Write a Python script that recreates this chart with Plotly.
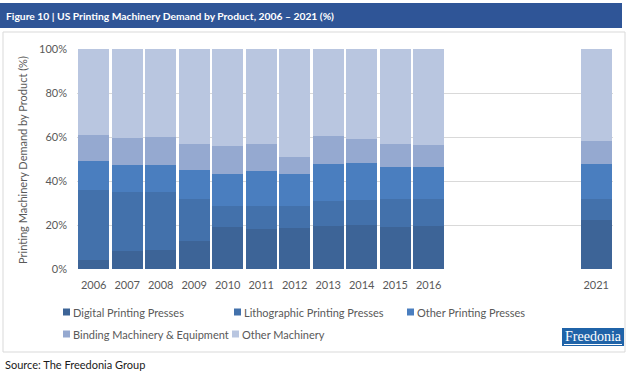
import plotly.graph_objects as go

years = [2006, 2007, 2008, 2009, 2010, 2011, 2012, 2013, 2014, 2015, 2016, 2021]
series_names = ["Digital Printing Presses", "Lithographic Printing Presses", "Other Printing Presses",
                "Binding Machinery & Equipment", "Other Machinery"]
digital = [4.2, 8.0, 8.8, 12.9, 19.2, 18.2, 18.8, 19.7, 20.2, 18.9, 19.7, 22.1]
litho = [31.6, 27.2, 26.2, 19.1, 9.3, 10.3, 9.7, 11.4, 11.3, 13.1, 12.0, 9.9]
other_printing = [13.1, 12.1, 12.4, 12.8, 14.7, 16.0, 14.7, 16.6, 16.7, 14.2, 14.5, 15.7]
binding = [12.0, 12.2, 12.6, 12.2, 12.9, 12.5, 7.9, 12.6, 10.7, 10.8, 10.3, 10.3]
other_machinery = [round(100 - a - b - c - d, 1) for a, b, c, d in zip(digital, litho, other_printing, binding)]
y_ticks = [0, 20, 40, 60, 80, 100]
y_tick_labels = ["0%", "20%", "40%", "60%", "80%", "100%"]

colors = ["#3d6497", "#4371ab", "#4a7ebf", "#95a9d0", "#b9c6e0"]
values = [digital, litho, other_printing, binding, other_machinery]
FONT = "Lato"

fig = go.Figure()
for name, vals, col in zip(series_names, values, colors):
    fig.add_trace(go.Bar(x=years, y=vals, name=name, marker=dict(color=col, line=dict(width=0)),
                         width=0.93, showlegend=False))

W, H = 633, 375
px = lambda x: x / W
py = lambda y: 1 - y / H

fig.update_layout(
    width=W, height=H, barmode="stack",
    margin=dict(l=0, r=0, t=0, b=0, autoexpand=False),
    paper_bgcolor="white", plot_bgcolor="white",
    font=dict(family=FONT, color="#595959", size=11),
    xaxis=dict(domain=[px(77), px(613)], range=[2005.5, 2021.5], tickvals=years,
               ticktext=[str(y) for y in years], showgrid=False, zeroline=False, automargin=False,
               showline=False, ticks="", ticklabelstandoff=8, tickfont=dict(size=11, color="#595959")),
    yaxis=dict(domain=[py(269), py(49)], range=[0, 100], tickvals=y_ticks, ticktext=y_tick_labels,
               showgrid=True, gridcolor="#d9d9d9", gridwidth=1, zeroline=False, showline=False,
               automargin=False,
               ticks="", ticklabelstandoff=9, tickfont=dict(size=11, color="#595959")),
)

shapes = []
annotations = []
# title bar
shapes.append(dict(type="rect", xref="paper", yref="paper", x0=px(0), x1=px(622), y0=py(28), y1=py(3),
                   fillcolor="#2f5597", line=dict(width=0), layer="below"))
annotations.append(dict(text="<b>Figure 10 | US Printing Machinery Demand by Product, 2006 – 2021 (%)</b>",
                        xref="paper", yref="paper", x=px(4), y=py(15.5), xanchor="left", yanchor="middle",
                        showarrow=False, font=dict(family=FONT, size=10.3, color="white")))
# border box
shapes.append(dict(type="rect", xref="paper", yref="paper", x0=px(3), x1=px(625), y0=py(352), y1=py(32),
                   fillcolor="rgba(0,0,0,0)", line=dict(color="#d9d9d9", width=1), layer="below"))
# y-axis title
annotations.append(dict(text="Printing Machinery Demand by Product (%)", xref="paper", yref="paper",
                        x=px(22), y=py(160), xanchor="center", yanchor="middle", textangle=-90,
                        showarrow=False, font=dict(family=FONT, size=11, color="#595959")))
# legend (manual)
legend_pos = [(63, 312), (234, 312), (407, 312), (63, 334), (232, 334)]
for (lx, ly), name, col in zip(legend_pos, series_names, colors):
    shapes.append(dict(type="rect", xref="paper", yref="paper", x0=px(lx), x1=px(lx + 7),
                       y0=py(ly + 3.5), y1=py(ly - 3.5), fillcolor=col, line=dict(width=0)))
    annotations.append(dict(text=name, xref="paper", yref="paper", x=px(lx + 8), y=py(ly),
                            xanchor="left", yanchor="middle", showarrow=False,
                            font=dict(family=FONT, size=11, color="#595959")))
# logo
shapes.append(dict(type="rect", xref="paper", yref="paper", x0=px(562), x1=px(624), y0=py(346), y1=py(328),
                   fillcolor="#1f63a8", line=dict(width=0)))
shapes.append(dict(type="line", xref="paper", yref="paper", x0=px(564), x1=px(622), y0=py(344.5), y1=py(344.5),
                   line=dict(color="white", width=1)))
annotations.append(dict(text="Freedonia", xref="paper", yref="paper", x=px(593), y=py(336.5),
                        xanchor="center", yanchor="middle", showarrow=False,
                        font=dict(family="Liberation Serif", size=14, color="white")))
# source
annotations.append(dict(text="Source: The Freedonia Group", xref="paper", yref="paper", x=px(3), y=py(364),
                        xanchor="left", yanchor="middle", showarrow=False,
                        font=dict(family=FONT, size=11, color="#1a1a1a")))

fig.update_layout(shapes=shapes, annotations=annotations)
fig.write_html("out.html", config={"displayModeBar": False}, post_script="document.body.style.margin='0';")
